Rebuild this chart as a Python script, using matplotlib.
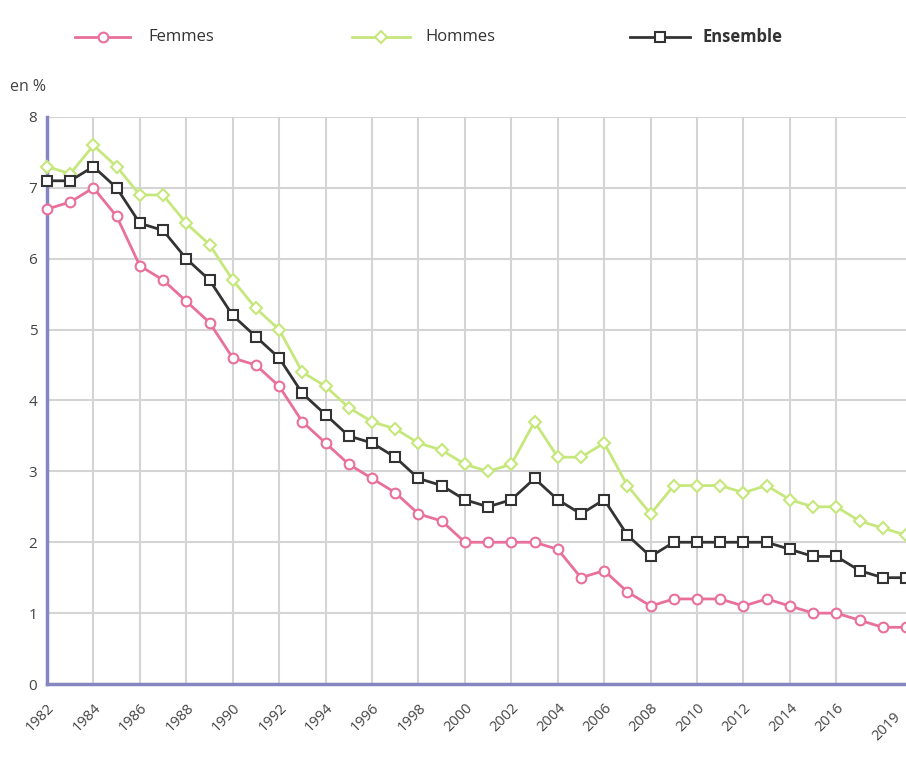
import matplotlib
matplotlib.use("Agg")
import matplotlib.pyplot as plt
from matplotlib.lines import Line2D

plt.rcParams['font.family'] = ['Open Sans', 'DejaVu Sans']

years = list(range(1982, 2020))
femmes = [6.7, 6.8, 7.0, 6.6, 5.9, 5.7, 5.4, 5.1, 4.6, 4.5, 4.2, 3.7, 3.4, 3.1, 2.9, 2.7,
          2.4, 2.3, 2.0, 2.0, 2.0, 2.0, 1.9, 1.5, 1.6, 1.3, 1.1, 1.2, 1.2, 1.2, 1.1, 1.2,
          1.1, 1.0, 1.0, 0.9, 0.8, 0.8]
hommes = [7.3, 7.2, 7.6, 7.3, 6.9, 6.9, 6.5, 6.2, 5.7, 5.3, 5.0, 4.4, 4.2, 3.9, 3.7, 3.6,
          3.4, 3.3, 3.1, 3.0, 3.1, 3.7, 3.2, 3.2, 3.4, 2.8, 2.4, 2.8, 2.8, 2.8, 2.7, 2.8,
          2.6, 2.5, 2.5, 2.3, 2.2, 2.1]
ensemble = [7.1, 7.1, 7.3, 7.0, 6.5, 6.4, 6.0, 5.7, 5.2, 4.9, 4.6, 4.1, 3.8, 3.5, 3.4, 3.2,
            2.9, 2.8, 2.6, 2.5, 2.6, 2.9, 2.6, 2.4, 2.6, 2.1, 1.8, 2.0, 2.0, 2.0, 2.0, 2.0,
            1.9, 1.8, 1.8, 1.6, 1.5, 1.5]
grid_years = list(range(1982, 2017, 2))
last_label = 2019
yticks = [0, 1, 2, 3, 4, 5, 6, 7, 8]

c_f = '#e8709a'
c_h = '#c6e77c'
c_e = '#333333'
tc = '#444444'

W, H = 906, 758
fig = plt.figure(figsize=(W / 100, H / 100), dpi=100)
ax = fig.add_axes([47 / W, (H - 684) / H, (906 - 47) / W, (684 - 117) / H])

ax.plot(years, femmes, color=c_f, lw=2, marker='o', ms=7, mfc='white', mec=c_f, mew=1.5, zorder=3, clip_on=False)
ax.plot(years, hommes, color=c_h, lw=2, marker='D', ms=6.5, mfc='white', mec=c_h, mew=1.5, zorder=3, clip_on=False)
ax.plot(years, ensemble, color=c_e, lw=2, marker='s', ms=6.5, mfc='white', mec=c_e, mew=1.5, zorder=4, clip_on=False)

ax.set_xlim(1982, 2019)
ax.set_ylim(0, 8)
ax.set_xticks(grid_years)
ax.set_xticklabels([str(x) for x in grid_years], rotation=45, ha='right',
                   rotation_mode='anchor', fontsize=10.5, color=tc)
ax.text(2018.45, -0.36, str(last_label), rotation=45, ha='right', va='top', rotation_mode='anchor',
        fontsize=10.5, color=tc, transform=ax.transData, clip_on=False)
ax.set_yticks(yticks)
ax.set_yticklabels([str(y) for y in yticks], fontsize=11, color=tc)
ax.tick_params(axis='both', length=0)
ax.tick_params(axis='y', pad=7)
ax.tick_params(axis='x', pad=12)

ax.grid(True, color='#d4d4d4', lw=1.5)
ax.set_axisbelow(True)
for s in ['top', 'right']:
    ax.spines[s].set_visible(False)
ax.spines['left'].set_color('#8585c2')
ax.spines['left'].set_linewidth(2.5)
ax.spines['bottom'].set_color('#8585c2')
ax.spines['bottom'].set_linewidth(2.5)

fig.text(10 / W, 1 - 87 / H, 'en %', fontsize=11.5, color=tc, va='center')

# legend
ly = 1 - 37 / H
entries = [(75, 130, c_f, 'o', 7, 'Femmes', 'normal', 148),
           (352, 410, c_h, 'D', 6.5, 'Hommes', 'normal', 425),
           (630, 690, c_e, 's', 6.5, 'Ensemble', 'bold', 703)]
for x0, x1, c, m, ms, lab, wt, tx in entries:
    fig.add_artist(Line2D([x0 / W, x1 / W], [ly, ly], color=c, lw=2, transform=fig.transFigure))
    fig.add_artist(Line2D([(x0 + x1) / 2 / W], [ly], color=c, marker=m, ms=ms, mfc='white',
                          mec=c, mew=1.5, transform=fig.transFigure))
    fig.text(tx / W, ly, lab, fontsize=12, color='#333333', va='center', fontweight=wt)

fig.savefig('out.png', dpi=100)
